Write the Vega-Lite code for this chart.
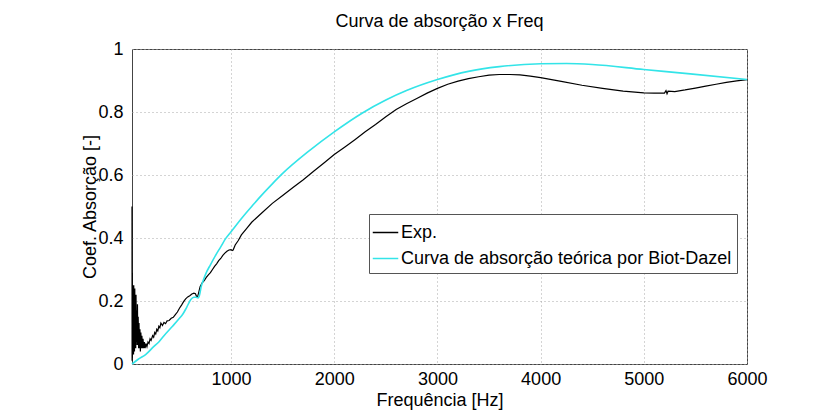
{
  "$schema": "https://vega.github.io/schema/vega-lite/v6.json",
  "width": 615,
  "height": 315,
  "autosize": {"type": "none"},
  "padding": {"left": 132, "top": 49, "right": 87, "bottom": 46},
  "background": "white",
  "title": {"text": "Curva de absorção x Freq", "font": "Liberation Sans", "fontSize": 18, "fontWeight": "normal", "color": "#000", "offset": 9},
  "config": {
    "view": {"stroke": "#444444", "strokeWidth": 1},
    "font": "Liberation Sans"
  },
  "datasets": {
    "exp": [
      {"f": 40, "a": 0.5}, {"f": 41, "a": 0.01}, {"f": 43, "a": 0.29}, {"f": 44, "a": 0.02}, {"f": 46, "a": 0.25}, {"f": 47, "a": 0.03},
      {"f": 49, "a": 0.24}, {"f": 51, "a": 0.04}, {"f": 53, "a": 0.2}, {"f": 55, "a": 0.03},
      {"f": 57, "a": 0.25}, {"f": 59, "a": 0.05}, {"f": 62, "a": 0.23}, {"f": 64, "a": 0.04}, {"f": 67, "a": 0.24},
      {"f": 70, "a": 0.06}, {"f": 73, "a": 0.2}, {"f": 76, "a": 0.05}, {"f": 79, "a": 0.22}, {"f": 82, "a": 0.07},
      {"f": 86, "a": 0.17}, {"f": 89, "a": 0.06}, {"f": 93, "a": 0.19}, {"f": 96, "a": 0.06}, {"f": 100, "a": 0.15},
      {"f": 104, "a": 0.05}, {"f": 108, "a": 0.13}, {"f": 112, "a": 0.05}, {"f": 117, "a": 0.11}, {"f": 121, "a": 0.04},
      {"f": 126, "a": 0.1}, {"f": 131, "a": 0.05}, {"f": 136, "a": 0.09}, {"f": 141, "a": 0.05}, {"f": 147, "a": 0.08},
      {"f": 153, "a": 0.05}, {"f": 160, "a": 0.07}, {"f": 167, "a": 0.05}, {"f": 175, "a": 0.065}, {"f": 185, "a": 0.055},
      {"f": 195, "a": 0.07}, {"f": 205, "a": 0.065}, {"f": 215, "a": 0.08}, {"f": 225, "a": 0.075},
      {"f": 240, "a": 0.09}, {"f": 250, "a": 0.085}, {"f": 260, "a": 0.1}, {"f": 270, "a": 0.095},
      {"f": 280, "a": 0.11}, {"f": 290, "a": 0.105}, {"f": 300, "a": 0.12}, {"f": 310, "a": 0.115}, {"f": 320, "a": 0.13},
      {"f": 335, "a": 0.122}, {"f": 350, "a": 0.132}, {"f": 365, "a": 0.128}, {"f": 380, "a": 0.137}, {"f": 400, "a": 0.138},
      {"f": 420, "a": 0.145}, {"f": 440, "a": 0.148}, {"f": 460, "a": 0.157}, {"f": 480, "a": 0.165}, {"f": 500, "a": 0.177},
      {"f": 520, "a": 0.187}, {"f": 540, "a": 0.198}, {"f": 560, "a": 0.207}, {"f": 580, "a": 0.213}, {"f": 600, "a": 0.217},
      {"f": 620, "a": 0.222}, {"f": 640, "a": 0.225}, {"f": 655, "a": 0.223}, {"f": 665, "a": 0.215}, {"f": 675, "a": 0.213},
      {"f": 685, "a": 0.225}, {"f": 700, "a": 0.245}, {"f": 720, "a": 0.258}, {"f": 740, "a": 0.265}, {"f": 760, "a": 0.275},
      {"f": 780, "a": 0.283}, {"f": 800, "a": 0.29}, {"f": 820, "a": 0.3}, {"f": 840, "a": 0.31}, {"f": 860, "a": 0.318},
      {"f": 880, "a": 0.328}, {"f": 900, "a": 0.335}, {"f": 920, "a": 0.345}, {"f": 940, "a": 0.352}, {"f": 960, "a": 0.358},
      {"f": 980, "a": 0.362}, {"f": 1000, "a": 0.363}, {"f": 1010, "a": 0.36}, {"f": 1020, "a": 0.362}, {"f": 1040, "a": 0.378},
      {"f": 1070, "a": 0.392}, {"f": 1100, "a": 0.41}, {"f": 1150, "a": 0.43}, {"f": 1200, "a": 0.45}, {"f": 1300, "a": 0.48},
      {"f": 1400, "a": 0.51}, {"f": 1500, "a": 0.535}, {"f": 1600, "a": 0.56}, {"f": 1700, "a": 0.585}, {"f": 1800, "a": 0.612},
      {"f": 1900, "a": 0.638}, {"f": 2000, "a": 0.665}, {"f": 2100, "a": 0.688}, {"f": 2200, "a": 0.712}, {"f": 2300, "a": 0.737},
      {"f": 2400, "a": 0.76}, {"f": 2500, "a": 0.785}, {"f": 2600, "a": 0.808}, {"f": 2700, "a": 0.826}, {"f": 2800, "a": 0.843},
      {"f": 2900, "a": 0.86}, {"f": 3000, "a": 0.875}, {"f": 3100, "a": 0.888}, {"f": 3200, "a": 0.898}, {"f": 3300, "a": 0.906},
      {"f": 3400, "a": 0.912}, {"f": 3500, "a": 0.917}, {"f": 3600, "a": 0.919}, {"f": 3700, "a": 0.919}, {"f": 3800, "a": 0.918},
      {"f": 3900, "a": 0.914}, {"f": 4000, "a": 0.909}, {"f": 4200, "a": 0.897}, {"f": 4400, "a": 0.885}, {"f": 4600, "a": 0.875},
      {"f": 4800, "a": 0.866}, {"f": 5000, "a": 0.861}, {"f": 5100, "a": 0.86}, {"f": 5200, "a": 0.86}, {"f": 5215, "a": 0.868},
      {"f": 5225, "a": 0.858}, {"f": 5235, "a": 0.866}, {"f": 5300, "a": 0.865}, {"f": 5400, "a": 0.87}, {"f": 5500, "a": 0.876},
      {"f": 5600, "a": 0.882}, {"f": 5700, "a": 0.888}, {"f": 5800, "a": 0.894}, {"f": 5900, "a": 0.899}, {"f": 6000, "a": 0.903}
    ],
    "teo": [
      {"f": 40, "a": 0.0}, {"f": 100, "a": 0.015}, {"f": 172, "a": 0.03}, {"f": 250, "a": 0.055}, {"f": 300, "a": 0.07},
      {"f": 350, "a": 0.09}, {"f": 433, "a": 0.12}, {"f": 500, "a": 0.145}, {"f": 530, "a": 0.157}, {"f": 570, "a": 0.18},
      {"f": 610, "a": 0.205}, {"f": 640, "a": 0.212}, {"f": 660, "a": 0.212}, {"f": 680, "a": 0.21}, {"f": 695, "a": 0.22},
      {"f": 710, "a": 0.245}, {"f": 730, "a": 0.265}, {"f": 760, "a": 0.29}, {"f": 800, "a": 0.315}, {"f": 850, "a": 0.345},
      {"f": 900, "a": 0.372}, {"f": 947, "a": 0.398}, {"f": 1000, "a": 0.42}, {"f": 1111, "a": 0.466}, {"f": 1200, "a": 0.5},
      {"f": 1266, "a": 0.525}, {"f": 1400, "a": 0.572}, {"f": 1500, "a": 0.605}, {"f": 1750, "a": 0.675}, {"f": 2000, "a": 0.737},
      {"f": 2273, "a": 0.797}, {"f": 2500, "a": 0.838}, {"f": 2700, "a": 0.868}, {"f": 3000, "a": 0.903}, {"f": 3300, "a": 0.929},
      {"f": 3600, "a": 0.944}, {"f": 4000, "a": 0.953}, {"f": 4250, "a": 0.954}, {"f": 4500, "a": 0.951}, {"f": 5000, "a": 0.935},
      {"f": 5450, "a": 0.921}, {"f": 6000, "a": 0.903}
    ]
  },
  "encoding": {
    "x": {
      "field": "f", "type": "quantitative",
      "scale": {"domain": [40, 6000], "nice": false, "zero": false},
      "axis": {
        "title": "Frequência [Hz]", "values": [1000, 2000, 3000, 4000, 5000, 6000], "format": "d",
        "ticks": false, "domain": false, "labelFlush": false, "labelPadding": 6, "labelFontSize": 18, "labelColor": "#000", "labelFont": "Liberation Sans",
        "titleFontSize": 18, "titleFontWeight": "normal", "titleColor": "#000", "titleFont": "Liberation Sans", "titlePadding": 3,
        "grid": true, "gridColor": "#a8a8a8", "gridDash": [1, 3], "gridWidth": 1
      }
    },
    "y": {
      "field": "a", "type": "quantitative",
      "scale": {"domain": [0, 1], "nice": false},
      "axis": {
        "title": "Coef. Absorção [-]", "values": [0, 0.2, 0.4, 0.6, 0.8, 1], "format": ".1~f",
        "ticks": false, "domain": false, "labelFlush": false, "labelPadding": 9, "labelFontSize": 18, "labelColor": "#000", "labelFont": "Liberation Sans",
        "titleFontSize": 18, "titleFontWeight": "normal", "titleColor": "#000", "titleFont": "Liberation Sans", "titlePadding": -2,
        "grid": true, "gridColor": "#a8a8a8", "gridDash": [1, 3], "gridWidth": 1
      }
    },
    "color": {
      "field": "s", "type": "nominal",
      "scale": {"domain": ["Exp.", "Curva de absorção teórica por Biot-Dazel"], "range": ["#000000", "#33e4e8"]},
      "legend": {
        "title": null, "orient": "none", "legendX": 237, "legendY": 165,
        "fillColor": "white", "strokeColor": "#555555", "padding": 5,
        "symbolType": "stroke", "symbolSize": 650, "symbolStrokeWidth": 1.5, "symbolOffset": -2,
        "labelFontSize": 18, "labelFont": "Liberation Sans", "labelColor": "#000", "labelOffset": 2,
        "rowPadding": 3, "labelLimit": 500
      }
    }
  },
  "layer": [
    {
      "data": {"name": "exp"},
      "transform": [{"calculate": "'Exp.'", "as": "s"}],
      "mark": {"type": "line", "strokeWidth": 1.2, "interpolate": "linear"}
    },
    {
      "data": {"name": "teo"},
      "transform": [{"calculate": "'Curva de absorção teórica por Biot-Dazel'", "as": "s"}],
      "mark": {"type": "line", "strokeWidth": 1.6, "interpolate": "monotone"}
    }
  ]
}
